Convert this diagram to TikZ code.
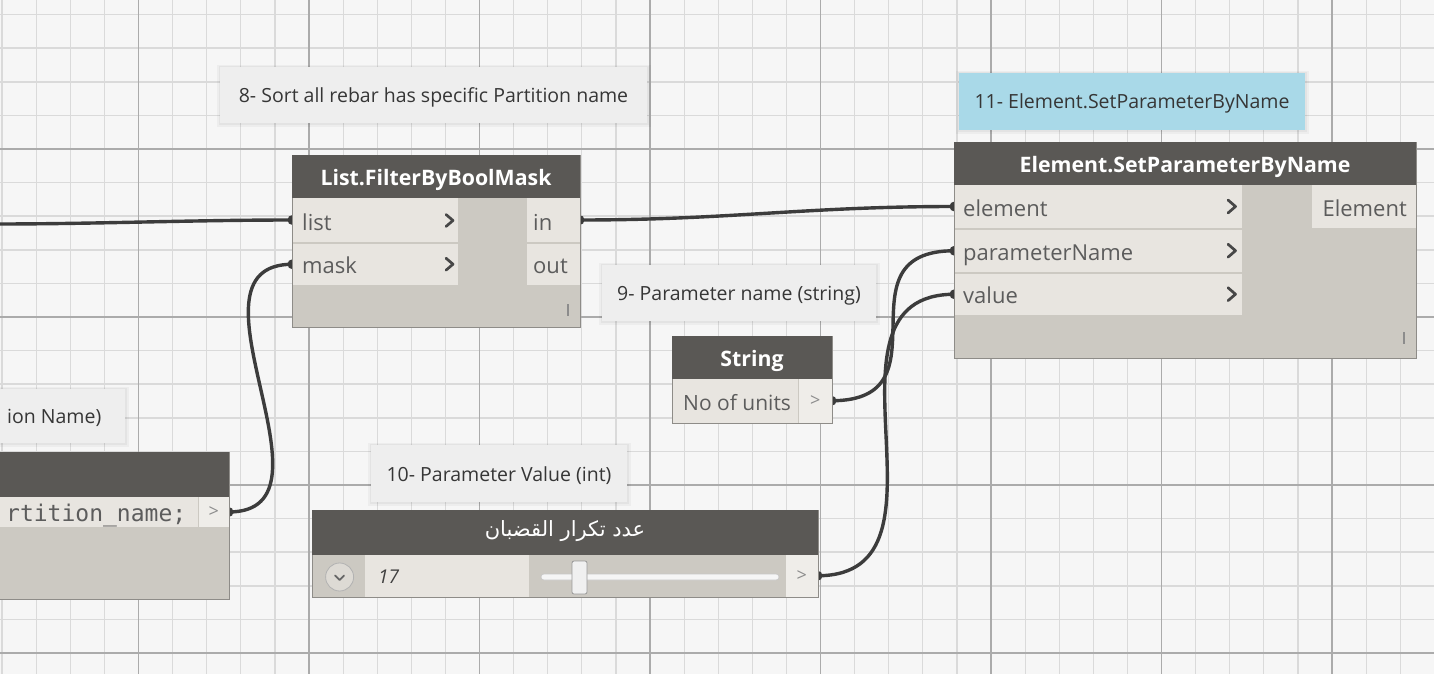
\documentclass[tikz,border=0pt]{standalone}
\usepackage{fontspec}
\setmainfont{Open Sans}
\setmonofont{DejaVu Sans Mono}
\newfontfamily\arabicfont[Script=Arabic]{DejaVu Sans}
\TeXXeTstate=1
\pgfdeclarelayer{grid}
\pgfdeclarelayer{wires}
\pgfsetlayers{grid,wires,main}

\definecolor{canvas}{HTML}{F6F6F6}
\definecolor{gridminor}{HTML}{DADADA}
\definecolor{gridmajor}{HTML}{ABABAB}
\definecolor{nodehead}{HTML}{5A5855}
\definecolor{nodebody}{HTML}{CCC9C2}
\definecolor{portrow}{HTML}{E8E5E0}
\definecolor{nodeedge}{HTML}{8E8C88}
\definecolor{porttext}{HTML}{5C5C5C}
\definecolor{wirecol}{HTML}{3C3C3C}
\definecolor{notefill}{HTML}{EEEEEE}
\definecolor{notetext}{HTML}{363636}
\definecolor{noteblue}{HTML}{A9D9E8}

% rectangular panel given by its top-left and bottom-right corners
\newcommand\panel[6]{%
  \node[#1, minimum width={(#5)-(#3)}, minimum height={(#6)-(#4)}] (#2) at (#3,#4) {};}
% text note with a soft shadow
\newcommand\note[6]{%
  \fill[black,opacity=0.035] ({#3-3},{#4-2}) rectangle ({#5+4},{#6+4});
  \fill[black,opacity=0.04] ({#3-1},{#4-1}) rectangle ({#5+2},{#6+2});
  \panel{notebox,fill=#2}{#1}{#3}{#4}{#5}{#6}}

\begin{document}
\begin{tikzpicture}[x=1pt,y=-1pt,
  base/.style={rectangle, inner sep=0pt, outer sep=0pt, anchor=north west},
  frame/.style={base, fill=nodebody, draw=nodeedge, line width=0.8pt},
  head/.style={base, fill=nodehead},
  cell/.style={base, fill=portrow},
  notebox/.style={base},
  title/.style={inner sep=0pt, text=white, font=\bfseries\fontsize{21.3}{24}\selectfont,
    text height=17pt, text depth=0pt},
  porttxt/.style={inner sep=0pt, text=porttext, font=\fontsize{22}{25}\selectfont,
    text height=19pt, text depth=0pt},
  notetxt/.style={inner sep=0pt, text=notetext, font=\fontsize{19.5}{22}\selectfont,
    text height=15.4pt, text depth=0pt},
  outmark/.style={inner sep=0pt, text=black!45, font=\fontsize{18}{20}\selectfont},
  chevron/.style={draw=black!72, line width=2.7pt, line cap=round, line join=round},
  wire/.style={draw=wirecol, line width=3.4pt},
  plug/.style={fill=wirecol},
  grip/.style={draw=black!45, line width=1.1pt}]

\useasboundingbox (0,0) rectangle (1434,674);
\clip (0,0) rectangle (1434,674);

% canvas grid
\begin{pgfonlayer}{grid}
  \fill[canvas] (0,0) rectangle (1434,674);
  \foreach \k in {-4,...,38}{
    \pgfmathsetmacro\gx{138.5+34.1*\k}
    \draw[gridminor, line width=1.2pt] (\gx,0) -- (\gx,674);}
  \foreach \k in {-4,...,15}{
    \pgfmathsetmacro\gy{149+33.6*\k}
    \draw[gridminor, line width=1.6pt] (0,\gy) -- (1434,\gy);}
  \foreach \k in {0,5,...,35}{
    \pgfmathsetmacro\gx{138.5+34.1*\k}
    \draw[gridmajor, line width=1.2pt] (\gx,0) -- (\gx,674);}
  \foreach \k in {0,5,10,15}{
    \pgfmathsetmacro\gy{149+33.6*\k}
    \draw[gridmajor, line width=1.4pt] (0,\gy) -- (1434,\gy);}
\end{pgfonlayer}

% ---- notes ----
\note{n8}{notefill}{220}{67}{647}{123}
\node[notetxt] (n8t) at (n8.center) {8- Sort all rebar has specific Partition name};
\note{n9}{notefill}{602}{265}{876}{321}
\node[notetxt] (n9t) at (n9.center) {9- Parameter name (string)};
\note{n10}{notefill}{371}{445}{627}{502}
\node[notetxt] (n10t) at (n10.center) {10- Parameter Value (int)};
\note{nname}{notefill}{-6}{389}{125}{443}
\node[notetxt, anchor=west] (nnamet) at (7,416) {ion Name)};
\note{n11}{noteblue}{959}{73}{1305}{130}
\node[notetxt] (n11t) at ([yshift=0.8pt]n11.center) {11- Element.SetParameterByName};

% ---- List.FilterByBoolMask ----
\panel{frame}{fbm}{292}{155}{580}{327}
\panel{head}{fbm-head}{292}{155}{580}{198}
\node[title] (fbm-title) at (fbm-head.center) {List.FilterByBoolMask};
\panel{cell}{fbm-list}{292.5}{198}{458}{242}
\panel{cell}{fbm-mask}{292.5}{243.5}{458}{285}
\panel{cell}{fbm-in}{527}{198}{579.5}{242}
\panel{cell}{fbm-out}{527}{243.5}{579.5}{285}
\node[porttxt, anchor=west] (fbm-list-t) at (302,220.5) {list};
\node[porttxt, anchor=west] (fbm-mask-t) at (302,264.2) {mask};
\node[porttxt, anchor=west] (fbm-in-t) at (533,220.5) {in};
\node[porttxt, anchor=west] (fbm-out-t) at (533,264.2) {out};
\draw[chevron] (446,214.5) -- (453,220.5) -- (446,226.5);
\draw[chevron] (446,258.2) -- (453,264.2) -- (446,270.2);
\draw[grip] (568,304) -- (568,316);

% ---- Element.SetParameterByName ----
\panel{frame}{esp}{954}{142}{1416}{358}
\panel{head}{esp-head}{954}{142}{1416}{185}
\node[title] (esp-title) at (esp-head.center) {Element.SetParameterByName};
\panel{cell}{esp-element}{954.5}{185}{1242}{228}
\panel{cell}{esp-pname}{954.5}{229.5}{1242}{272}
\panel{cell}{esp-value}{954.5}{273.5}{1242}{315}
\panel{cell}{esp-out}{1312}{185}{1415.5}{228}
\node[porttxt, anchor=west] (esp-element-t) at (963,206.5) {element};
\node[porttxt, anchor=west] (esp-pname-t) at (963,250.7) {parameterName};
\node[porttxt, anchor=west] (esp-value-t) at (963,294.2) {value};
\node[porttxt, anchor=east] (esp-out-t) at (1407,206.5) {Element};
\draw[chevron] (1228,200) -- (1235.5,206.5) -- (1228,213);
\draw[chevron] (1228,244.2) -- (1235.5,250.7) -- (1228,257.2);
\draw[chevron] (1228,287.7) -- (1235.5,294.2) -- (1228,300.7);
\draw[grip] (1404,332) -- (1404,344);

% ---- String ----
\panel{frame}{str}{672}{336}{832}{423}
\panel{head}{str-head}{672}{336}{832}{379}
\node[title] (str-title) at (str-head.center) {String};
\panel{cell}{str-val}{672.5}{379}{798}{422.5}
\panel{cell,fill=portrow!70!white}{str-out}{799}{379}{831.5}{422.5}
\node[porttxt, font=\fontsize{21}{24}\selectfont, anchor=west] (str-val-t) at (683,401) {No of units};
\node[outmark] (str-out-t) at (str-out.center) {>};

% ---- Code Block (partly outside the canvas) ----
\panel{frame}{cb}{-6}{452}{229}{599}
\panel{head}{cb-head}{-6}{452}{229}{497}
\panel{cell}{cb-code}{-6}{497}{197.5}{527}
\panel{cell,fill=portrow!70!white}{cb-out}{199}{497}{228.5}{527}
\node[inner sep=0pt, anchor=base west, text=porttext, font=\ttfamily\fontsize{23}{25}\selectfont]
  (cb-code-t) at (6,521) {rtition\_name;};
\node[outmark] (cb-out-t) at (cb-out.center) {>};

% ---- Integer slider ----
\panel{frame}{sl}{312}{510}{818}{597}
\panel{head}{sl-head}{312}{510}{818}{555}
\node[inner sep=0pt, text=white, font=\arabicfont\fontsize{21}{24}\selectfont] (sl-title)
  at ([yshift=1pt]sl-head.center) {\beginR عدد تكرار القضبان\endR};
\panel{cell}{sl-val}{365}{555}{529}{596.5}
\panel{cell,fill=portrow!70!white}{sl-out}{786}{555}{817.5}{596.5}
\node[circle, inner sep=0pt, minimum size=28pt, fill=portrow!60!nodebody, draw=black!30, line width=0.8pt]
  (sl-btn) at (339.6,577) {};
\draw[draw=black!60, line width=1.8pt, line cap=round, line join=round]
  ([xshift=-4.5pt,yshift=1.5pt]sl-btn.center) -- ([yshift=-3pt]sl-btn.center) -- ([xshift=4.5pt,yshift=1.5pt]sl-btn.center);
\node[inner sep=0pt, anchor=base west, text=black!75, font=\itshape\fontsize{19}{22}\selectfont]
  (sl-val-t) at (378,583.5) {17};
\node[base, minimum width=238pt, minimum height=6pt, rounded corners=3pt, fill=white!96!black,
  draw=black!22, line width=0.6pt, anchor=west] (sl-track) at (541,577) {};
\node[base, minimum width=15pt, minimum height=33pt, rounded corners=2pt, fill=white!94!black,
  draw=black!40, line width=0.8pt, anchor=center] (sl-thumb) at (579.5,577.5) {};
\node[outmark] (sl-out-t) at (sl-out.center) {>};

% ---- wires ----
\coordinate (feed) at (-4,224);
\begin{pgfonlayer}{wires}
  \draw[wire] (feed) .. controls +(100,0) and +(-100,0) .. (fbm-list.west);
  \draw[wire] (fbm-in.east) .. controls +(150,0) and +(-150,0) .. (esp-element.west);
  \draw[wire] (cb-out.east) .. controls +(120,0) and +(-120,0) .. (fbm-mask.west);
  \draw[wire] (str-out.east) .. controls +(120,0) and +(-120,0) .. (esp-pname.west);
  \draw[wire] (sl-out.east) .. controls +(150,0) and +(-150,0) .. (esp-value.west);
  \foreach \p in {fbm-list.west, fbm-mask.west, fbm-in.east, esp-element.west,
                  esp-pname.west, esp-value.west, cb-out.east, str-out.east, sl-out.east}
    \fill[plug] (\p) circle (5pt);
\end{pgfonlayer}
\end{tikzpicture}
\end{document}
